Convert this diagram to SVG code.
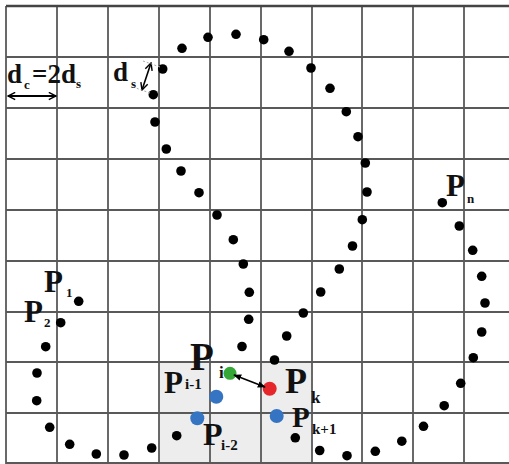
<svg xmlns="http://www.w3.org/2000/svg" width="509" height="464" viewBox="0 0 509 464">
<defs>
<style>
.grid line{stroke:#595959;stroke-width:1.8}
.dot{fill:#000}
.lbl{font-family:"Liberation Serif","Times New Roman",serif;font-weight:bold;fill:#111}
.shade{fill:#ededed}
</style>
<marker id="chev" viewBox="0 0 10 10" refX="9" refY="5" markerWidth="9" markerHeight="9" markerUnits="userSpaceOnUse" orient="auto-start-reverse">
<path d="M1,1 L9,5 L1,9" fill="none" stroke="#000" stroke-width="1.6"/>
</marker>
<marker id="ah" viewBox="0 0 10 10" refX="9" refY="5" markerWidth="8" markerHeight="8" markerUnits="userSpaceOnUse" orient="auto-start-reverse">
<path d="M0,1 L10,5 L0,9 z" fill="#000"/>
</marker>
</defs>
<rect width="509" height="464" fill="#fff"/>
<g id="shading">
<rect class="shade" x="159" y="362" width="51" height="51"/>
<rect class="shade" x="261" y="362" width="51" height="51"/>
<rect class="shade" x="159" y="413" width="153" height="51"/>
</g>
<g id="grid" class="grid">
<line x1="6" y1="6" x2="6" y2="464"/>
<line x1="57" y1="6" x2="57" y2="464"/>
<line x1="108" y1="6" x2="108" y2="464"/>
<line x1="159" y1="6" x2="159" y2="464"/>
<line x1="210" y1="6" x2="210" y2="464"/>
<line x1="261" y1="6" x2="261" y2="464"/>
<line x1="312" y1="6" x2="312" y2="464"/>
<line x1="362" y1="6" x2="362" y2="464"/>
<line x1="413" y1="6" x2="413" y2="464"/>
<line x1="464" y1="6" x2="464" y2="464"/>
<line x1="6" y1="6" x2="509" y2="6" style="stroke:#444;stroke-width:2.6"/>
<line x1="6" y1="57" x2="509" y2="57"/>
<line x1="6" y1="108" x2="509" y2="108"/>
<line x1="6" y1="159" x2="509" y2="159"/>
<line x1="6" y1="210" x2="509" y2="210"/>
<line x1="6" y1="261" x2="509" y2="261"/>
<line x1="6" y1="312" x2="509" y2="312"/>
<line x1="6" y1="362" x2="509" y2="362"/>
<line x1="6" y1="413" x2="509" y2="413"/>
<line x1="6" y1="463" x2="509" y2="463"/>
</g>
<g id="points">
<circle class="dot" cx="78.7" cy="301.3" r="4.8"/>
<circle class="dot" cx="60.7" cy="322.7" r="4.8"/>
<circle class="dot" cx="45.7" cy="346.7" r="4.8"/>
<circle class="dot" cx="37" cy="373" r="4.8"/>
<circle class="dot" cx="36.7" cy="400.7" r="4.8"/>
<circle class="dot" cx="49.7" cy="427.3" r="4.8"/>
<circle class="dot" cx="69.7" cy="444.3" r="4.8"/>
<circle class="dot" cx="96.3" cy="454" r="4.8"/>
<circle class="dot" cx="124" cy="455" r="4.8"/>
<circle class="dot" cx="151.7" cy="448" r="4.8"/>
<circle class="dot" cx="176.7" cy="435.7" r="4.8"/>
<circle class="dot" cx="242" cy="346.5" r="4.8"/>
<circle class="dot" cx="248.7" cy="319.3" r="4.8"/>
<circle class="dot" cx="249.3" cy="292.3" r="4.8"/>
<circle class="dot" cx="243.3" cy="264" r="4.8"/>
<circle class="dot" cx="233.3" cy="239.7" r="4.8"/>
<circle class="dot" cx="217" cy="215" r="4.8"/>
<circle class="dot" cx="199" cy="192.7" r="4.8"/>
<circle class="dot" cx="181" cy="171" r="4.8"/>
<circle class="dot" cx="166.3" cy="149" r="4.8"/>
<circle class="dot" cx="155" cy="122" r="4.8"/>
<circle class="dot" cx="153.3" cy="94.7" r="4.8"/>
<circle class="dot" cx="162.7" cy="69" r="4.8"/>
<circle class="dot" cx="182" cy="48.3" r="4.8"/>
<circle class="dot" cx="208" cy="37.3" r="4.8"/>
<circle class="dot" cx="236" cy="34.3" r="4.8"/>
<circle class="dot" cx="263.7" cy="39.7" r="4.8"/>
<circle class="dot" cx="289" cy="51.3" r="4.8"/>
<circle class="dot" cx="311" cy="68" r="4.8"/>
<circle class="dot" cx="330" cy="88.3" r="4.8"/>
<circle class="dot" cx="346.3" cy="111.7" r="4.8"/>
<circle class="dot" cx="358" cy="136.7" r="4.8"/>
<circle class="dot" cx="365.3" cy="163" r="4.8"/>
<circle class="dot" cx="367" cy="192" r="4.8"/>
<circle class="dot" cx="362.3" cy="219.7" r="4.8"/>
<circle class="dot" cx="352.5" cy="246" r="4.8"/>
<circle class="dot" cx="339.3" cy="269" r="4.8"/>
<circle class="dot" cx="320.7" cy="292" r="4.8"/>
<circle class="dot" cx="303.3" cy="313" r="4.8"/>
<circle class="dot" cx="286.7" cy="336" r="4.8"/>
<circle class="dot" cx="274.5" cy="360" r="4.8"/>
<circle class="dot" cx="295.3" cy="437.8" r="4.8"/>
<circle class="dot" cx="319.7" cy="450.5" r="4.8"/>
<circle class="dot" cx="347" cy="455.7" r="4.8"/>
<circle class="dot" cx="375.3" cy="451.3" r="4.8"/>
<circle class="dot" cx="401.8" cy="441.2" r="4.8"/>
<circle class="dot" cx="423.5" cy="426.3" r="4.8"/>
<circle class="dot" cx="444.2" cy="405.7" r="4.8"/>
<circle class="dot" cx="460.7" cy="383.3" r="4.8"/>
<circle class="dot" cx="473.3" cy="357.7" r="4.8"/>
<circle class="dot" cx="481.7" cy="332" r="4.8"/>
<circle class="dot" cx="485" cy="303" r="4.8"/>
<circle class="dot" cx="481.7" cy="276.3" r="4.8"/>
<circle class="dot" cx="472.7" cy="250.3" r="4.8"/>
<circle class="dot" cx="459.3" cy="226" r="4.8"/>
<circle class="dot" cx="442.3" cy="202.7" r="4.8"/>
</g>
<g id="special-points">
<circle id="p-i" cx="230" cy="373.3" r="6.5" fill="#35a838"/>
<circle id="p-k" cx="269.7" cy="388.7" r="7" fill="#e5262b"/>
<circle id="p-i-1" cx="216.3" cy="396.7" r="7" fill="#3474c2"/>
<circle id="p-i-2" cx="197.3" cy="418.3" r="7" fill="#3474c2"/>
<circle id="p-k+1" cx="276.7" cy="416" r="7" fill="#3474c2"/>
</g>
<g id="connectors">
<line x1="8" y1="96" x2="56" y2="96" stroke="#000" stroke-width="1.8" marker-start="url(#chev)" marker-end="url(#chev)"/>
<line x1="151" y1="63" x2="142" y2="90" stroke="#000" stroke-width="1.6" marker-start="url(#chev)" marker-end="url(#chev)"/>
<line x1="160" y1="67" x2="143" y2="61" stroke="#aaa" stroke-width="1" stroke-dasharray="2,2"/>
<line x1="150" y1="93" x2="133" y2="87" stroke="#aaa" stroke-width="1" stroke-dasharray="2,2"/>
<line x1="234" y1="375" x2="265" y2="387" stroke="#000" stroke-width="1.6" marker-start="url(#ah)" marker-end="url(#ah)"/>
</g>
<g id="labels" class="lbl">
<text x="7" y="83" font-size="27">d</text>
<text x="24" y="89" font-size="13">c</text>
<text x="32" y="83" font-size="27">=2d</text>
<text x="76" y="88" font-size="13">s</text>
<text x="113" y="81" font-size="27">d</text>
<text x="131" y="88" font-size="13">s</text>
<text x="44" y="292" font-size="31">P</text>
<text x="66" y="297" font-size="13">1</text>
<text x="24" y="322" font-size="31">P</text>
<text x="44" y="327" font-size="13">2</text>
<text x="446" y="196" font-size="31">P</text>
<text x="467" y="203" font-size="13">n</text>
<text x="190" y="370" font-size="39">P</text>
<text x="219" y="378" font-size="17">i</text>
<text x="164" y="393" font-size="31">P</text>
<text x="185" y="389" font-size="15">i-1</text>
<text x="203" y="445" font-size="32">P</text>
<text x="221" y="450" font-size="15">i-2</text>
<text x="285" y="393" font-size="36">P</text>
<text x="311" y="403" font-size="17">k</text>
<text x="292" y="427" font-size="29">P</text>
<text x="312" y="434" font-size="15">k+1</text>
</g>
</svg>
